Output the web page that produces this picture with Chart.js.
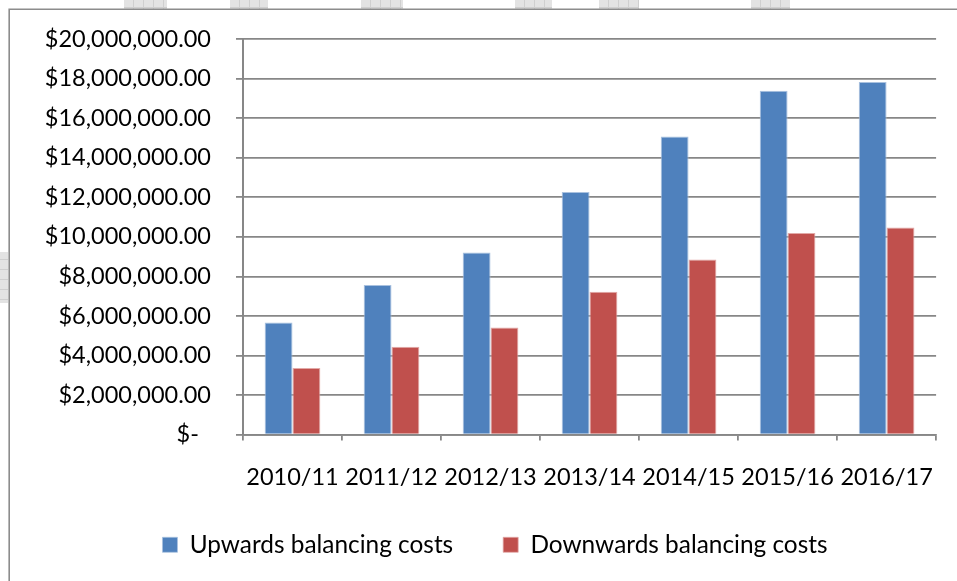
<!DOCTYPE html>
<html>
<head>
<meta charset="utf-8">
<script src="https://cdn.jsdelivr.net/npm/chart.js@4/dist/chart.umd.min.js"></script>
<style>
  html, body { margin: 0; padding: 0; background: #ffffff; }
  #wrap { width: 957px; height: 581px; position: relative; }
</style>
</head>
<body>
<div id="wrap"><canvas id="chart" width="957" height="581"></canvas></div>
<script>
// Financial years
const categories = ['2010/11', '2011/12', '2012/13', '2013/14', '2014/15', '2015/16', '2016/17'];

// Balancing costs in dollars
const upwardsCosts   = [5670000, 7560000, 9210000, 12270000, 15070000, 17390000, 17830000];
const downwardsCosts = [3370000, 4440000, 5420000, 7220000, 8850000, 10200000, 10470000];

// Value-axis labels, accounting style, from $0 up to $20M
const yTickLabels = [
  '$-  ', '$2,000,000.00', '$4,000,000.00', '$6,000,000.00', '$8,000,000.00',
  '$10,000,000.00', '$12,000,000.00', '$14,000,000.00', '$16,000,000.00',
  '$18,000,000.00', '$20,000,000.00'
];

const seriesNames = ['Upwards balancing costs', 'Downwards balancing costs'];

const FONT = 'Lato, "Open Sans", "DejaVu Sans", sans-serif';
const AXIS_GREY = '#878787';

// Page frame: light sheet thumbnails peeking in and the chart's outline
const framePlugin = {
  id: 'frame',
  beforeDraw(chart) {
    const ctx = chart.ctx;
    ctx.save();
    ctx.fillStyle = '#ffffff';
    ctx.fillRect(0, 0, chart.width, chart.height);

    const tiles = [[124, 0, 43, 9], [230, 0, 38, 9], [361, 0, 42, 9], [515, 0, 37, 9],
                   [599, 0, 40, 9], [751, 0, 39, 9], [0, 252, 8, 51]];
    tiles.forEach(([x, y, w, h]) => {
      ctx.fillStyle = '#e3e3e3';
      ctx.fillRect(x, y, w, h);
      ctx.strokeStyle = '#cfcfcf';
      ctx.lineWidth = 1;
      ctx.beginPath();
      for (let gx = x + 9.5; gx < x + w; gx += 10) { ctx.moveTo(gx, y); ctx.lineTo(gx, y + h); }
      for (let gy = y + 7.5; gy < y + h; gy += 10) { ctx.moveTo(x, gy); ctx.lineTo(x + w, gy); }
      ctx.stroke();
    });

    ctx.strokeStyle = '#8c8c8c';
    ctx.lineWidth = 1.6;
    ctx.beginPath();
    ctx.moveTo(9.2, chart.height);
    ctx.lineTo(9.2, 9.2);
    ctx.lineTo(chart.width, 9.2);
    ctx.stroke();
    ctx.restore();
  },
  afterLayout(chart) {
    // nudge the legend row: a little right and up, closer to the category labels
    const lg = chart.legend;
    if (lg) {
      lg.left += 20; lg.right += 20;
      lg.top -= 10; lg.bottom -= 10;
    }
  }
};

new Chart(document.getElementById('chart'), {
  type: 'bar',
  data: {
    labels: categories,
    datasets: [
      {
        label: seriesNames[0],
        data: upwardsCosts,
        backgroundColor: '#4F81BD',
        borderColor: '#A9C1DF',
        borderWidth: { top: 1, left: 1, right: 1, bottom: 0 },
        categoryPercentage: 0.5625,
        barPercentage: 1.0
      },
      {
        label: seriesNames[1],
        data: downwardsCosts,
        backgroundColor: '#C0504D',
        borderColor: '#E2A9A7',
        borderWidth: { top: 1, left: 1, right: 1, bottom: 0 },
        categoryPercentage: 0.5625,
        barPercentage: 1.0
      }
    ]
  },
  options: {
    responsive: false,
    animation: false,
    devicePixelRatio: 1,
    layout: { padding: { left: 10, right: 17, top: 39, bottom: 4 } },
    plugins: {
      tooltip: { enabled: false },
      legend: {
        position: 'bottom',
        labels: {
          font: { family: FONT, size: 24.4 },
          color: '#000000',
          boxWidth: 15,
          boxHeight: 15,
          padding: 50
        }
      }
    },
    scales: {
      x: {
        offset: true,
        grid: {
          display: true,
          offset: true,
          drawOnChartArea: false,
          drawTicks: true,
          tickLength: 6,
          color: AXIS_GREY,
          lineWidth: 1.8
        },
        border: { display: true, color: AXIS_GREY, width: 1.8 },
        ticks: {
          font: { family: FONT, size: 23.5 },
          color: '#000000',
          padding: 23,
          maxRotation: 0,
          autoSkip: false
        },
        afterFit(scale) { scale.height = 58; }
      },
      y: {
        min: 0,
        max: 20000000,
        grid: {
          color: AXIS_GREY,
          lineWidth: 1.8,
          drawTicks: true,
          tickLength: 7
        },
        border: { display: true, color: AXIS_GREY, width: 2 },
        ticks: {
          stepSize: 2000000,
          font: { family: FONT, size: 23.5 },
          color: '#000000',
          padding: 25,
          callback: (v, i) => yTickLabels[i]
        },
        afterFit(scale) { scale.width = 233; }
      }
    }
  },
  plugins: [framePlugin]
});
</script>
</body>
</html>
